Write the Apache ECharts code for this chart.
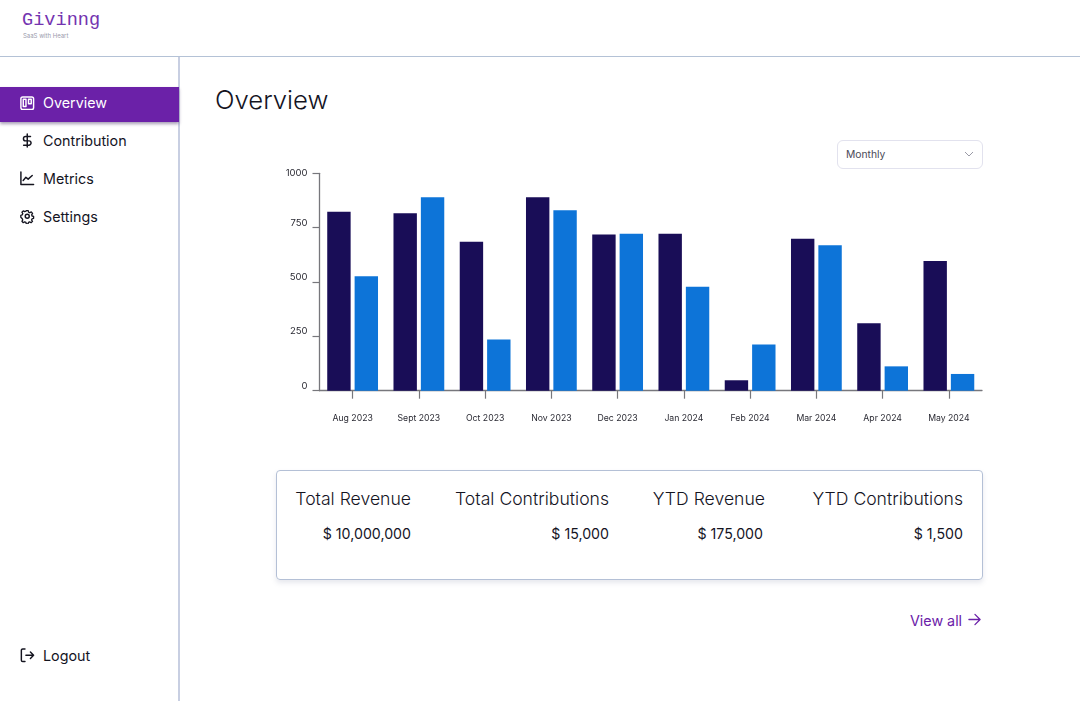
<!DOCTYPE html>
<html>
<head>
<meta charset="utf-8">
<title>Givinng</title>
<script src="https://cdn.jsdelivr.net/npm/echarts@6/dist/echarts.min.js"></script>
<style>
html,body{margin:0;padding:0;background:#fff;font-family:Inter,sans-serif;color:#14141f;}
body{position:relative;width:1080px;height:701px;overflow:hidden;}
.abs{position:absolute;white-space:nowrap;}
#topline{position:absolute;left:0;top:56px;width:1080px;height:1px;background:#b4c2d6;}
#sideline{position:absolute;left:178px;top:57px;width:2px;height:644px;background:#c8cfe2;}
#logo{left:22px;top:10px;font-family:"Liberation Mono",monospace;font-size:18.6px;color:#7434b0;line-height:22px;}
#slogan{left:23px;top:31px;font-size:6px;color:#9a9aac;line-height:9px;}
#active{position:absolute;left:0;top:87px;width:179px;height:35px;background:#6b21a8;box-shadow:0 2px 3px rgba(60,40,90,.45);}
.nav{left:43px;font-size:14.3px;line-height:20px;}
.icon{position:absolute;left:20px;width:14.5px;height:14.5px;fill:none;stroke:#14141f;stroke-width:1.6;stroke-linecap:round;stroke-linejoin:round;}
#title{left:215px;top:83px;font-size:25.7px;line-height:34px;font-weight:300;}
#select{position:absolute;left:837px;top:140px;width:144px;height:27px;border:1px solid #e2e2ee;border-radius:6px;}
#select span{position:absolute;left:8px;top:6px;font-size:10.3px;line-height:15px;color:#4a4a58;}
#select svg{position:absolute;left:126px;top:10px;width:10px;height:6px;fill:none;stroke:#9a9aa6;stroke-width:1;}
#chart{position:absolute;left:260px;top:160px;width:740px;height:280px;}
#card{position:absolute;left:276px;top:470px;width:705px;height:108px;border:1px solid #b4c0d6;border-radius:4px;box-shadow:0 3px 5px rgba(120,130,160,.18);}
.head{font-size:17.6px;line-height:22px;top:488px;font-weight:300;}
.val{font-size:14.2px;line-height:20px;top:524px;}
#viewall{left:910px;top:611px;font-size:14.3px;line-height:20px;color:#6b21a8;}
</style>
</head>
<body>
<div class="abs" id="logo">Givinng</div>
<div class="abs" id="slogan">SaaS with Heart</div>
<div id="topline"></div>
<div id="sideline"></div>
<div id="active"></div>

<svg class="icon" style="top:95.500px;stroke:#fff" viewBox="0 0 16 16"><rect x="1" y="1" width="14" height="14" rx="2"/><rect x="3.6" y="3.6" width="3" height="8"/><rect x="9.4" y="3.6" width="3" height="5"/></svg>
<div class="abs nav" style="top:92.500px;color:#fff">Overview</div>
<svg class="icon" style="left:20px;top:133px;height:15px;width:14.500px" viewBox="0 0 16 16"><path d="M8 .8v14.4M11.6 3.6H6.2a2.4 2.4 0 0 0 0 4.8h3.6a2.4 2.4 0 0 1 0 4.8H4"/></svg>
<div class="abs nav" style="top:130.500px">Contribution</div>
<svg class="icon" style="top:171px" viewBox="0 0 16 16"><path d="M1 1v14h14M3.5 10.5l3-3.5 2.5 2 4.5-4"/></svg>
<div class="abs nav" style="top:168.500px">Metrics</div>
<svg class="icon" style="top:209px" viewBox="0 0 16 16"><circle cx="8" cy="8" r="2.2"/><path d="M6.8 1h2.4l.4 2 1.5.7 1.8-1 1.6 1.8-1.1 1.7.5 1.5 1.9.5v2.4l-1.9.5-.6 1.5 1.1 1.7-1.7 1.6-1.7-1-1.5.6-.5 1.9H6.8l-.4-1.9-1.6-.7-1.7 1.1-1.6-1.7 1-1.7-.6-1.5L.1 9.2V6.8l1.8-.5.6-1.5-1-1.7 1.6-1.7 1.7 1 1.6-.6z" transform="translate(.8 .8) scale(.9)"/></svg>
<div class="abs nav" style="top:206.500px">Settings</div>
<svg class="icon" style="top:648px" viewBox="0 0 16 16"><path d="M5.500 1H3a1.500 1.500 0 0 0-1.500 1.500v11A1.500 1.500 0 0 0 3 15h2.500M6.500 8h8.500M11.500 4.500L15 8l-3.500 3.500"/></svg>
<div class="abs nav" style="top:645.500px">Logout</div>

<div class="abs" id="title">Overview</div>
<div id="select"><span>Monthly</span><svg viewBox="0 0 10 6"><path d="M1 1l4 4 4-4"/></svg></div>
<div id="chart"></div>

<div id="card"></div>
<div class="abs head" style="right:669px">Total Revenue</div>
<div class="abs val" style="right:669px">$ 10,000,000</div>
<div class="abs head" style="right:471px">Total Contributions</div>
<div class="abs val" style="right:471px">$ 15,000</div>
<div class="abs head" style="right:315px">YTD Revenue</div>
<div class="abs val" style="right:317px">$ 175,000</div>
<div class="abs head" style="right:117px">YTD Contributions</div>
<div class="abs val" style="right:117px">$ 1,500</div>

<div class="abs" id="viewall">View all</div>
<svg class="icon" style="left:968px;top:613px;width:13px;height:13px;stroke:#6b21a8;stroke-width:1.4" viewBox="0 0 14 14"><path d="M1 7h12M7.500 1.500L13 7l-5.500 5.500"/></svg>

<script>
var months = ['Aug 2023','Sept 2023','Oct 2023','Nov 2023','Dec 2023','Jan 2024','Feb 2024','Mar 2024','Apr 2024','May 2024'];
var revenue = [823, 816, 685, 890, 718, 722, 48, 699, 310, 597];
var contributions = [527, 890, 236, 830, 722, 478, 213, 669, 112, 77];
var yTicks = [0, 250, 500, 750, 1000];

window.onload=function(){
	var myChart = echarts.init(document.getElementById('chart'), null, {renderer: 'canvas'});
	var axisColor = '#77777c';

	var option = {
		animation: false,
		grid: {
			left: 59.5,
			right: 18,
			top: 13.3,
			bottom: 49.3
		},
		xAxis: {
			type: 'category',
			data: months,
			axisLine: {
				lineStyle: {
					color: axisColor,
					width: 1.3
				}
			},
			axisTick: {
				show: true,
				alignWithLabel: true,
				length: 8,
				lineStyle: {
					color: axisColor,
					width: 1.2
				}
			},
			axisLabel: {
				interval: 0,
				margin: 23.5,
				color: '#2a2a33',
				fontFamily: 'Inter',
				fontSize: 8.7
			}
		},
		yAxis: {
			type: 'value',
			min: yTicks[0],
			max: yTicks[yTicks.length - 1],
			interval: yTicks[1] - yTicks[0],
			axisLine: {
				show: true,
				lineStyle: {
					color: axisColor,
					width: 1.3
				}
			},
			axisTick: {
				show: true,
				length: 7,
				lineStyle: {
					color: axisColor,
					width: 1.2
				}
			},
			splitLine: {
				show: false
			},
			axisLabel: {
				margin: 12,
				color: '#2a2a33',
				fontFamily: 'Inter',
				fontSize: 9.5,
				verticalAlign: 'bottom',
				verticalAlignMaxLabel: 'middle',
				formatter: function(value){
					return String(value);
				}
			}
		},
		series: [
			{
				name: 'Revenue',
				type: 'bar',
				data: revenue,
				barWidth: 23.4,
				barGap: '17%',
				itemStyle: {
					color: '#190d57'
				}
			},
			{
				name: 'Contributions',
				type: 'bar',
				data: contributions,
				barWidth: 23.4,
				itemStyle: {
					color: '#0d74d8'
				}
			}
		]
	};

	myChart.setOption(option);
}
</script>
</body>
</html>
